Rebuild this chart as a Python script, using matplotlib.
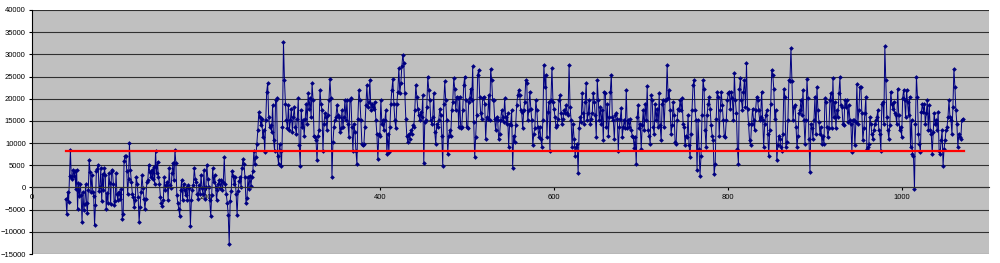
import numpy as np
import matplotlib
matplotlib.use("Agg")
import matplotlib.pyplot as plt

plt.rcParams['font.family'] = ['Liberation Sans', 'DejaVu Sans']

# series values in thousands (left to right)
c1 = [-2.5, -6, -1, -3.3, 2.7, 8.5, 2.3, 2, 4, 2.5, 3.8, -0.3, 4, -4.8, 1, -2, 0.8, -1.7, -7.8, -1,
      -5, -3.7, 0.7, -3.5, -5.8, -0.6, 6.3, 3.5, -1, 2.8, -1, -2, -8.5, -4, 3.8, 4.2, 5, -0.7, 0.2, 4.3,
      -3, 3, -0.5, 4.3, 2.8, -4.8, -1.3, -3.5, 3.2, 1, -3.7, 4, 3.7, 0.8, -3.9, -3, 3.2, -1.4, -2.9, -1,
      -1.5, -2.7, -0.4, -7, -6, 6, 7, 7.2, 3.8, -1.5, 2]
c2 = [10.0, 3.9, 1.3, -1.4, -2.1, -4.4, -2.9, 2.4, 0.9, -2.1, -7.8, -4.4, -1.0, 2.8, -0.2, -2.5, -4.8, -2.5,
      1.3, 1.7, 5.1, 3.6, 2.4, 3.9, 2.0, 4.7, 0.9, 8.3, 3.2, 5.8, 2.4, 0.9, -2.1, -3.6, -4.2, -2.9, 2.4,
      -0.6, 0.5, 1.3, -2.9, 4.3, 0.5, -0.2, 3.2, 5.5, 1.7, 8.5, 5.5, -1.7, -3.6, -4.8, -6.5, -0.6, 1.7,
      -2.9, 0.9, -0.6, -1.7, 0.2, -2.9, 0.5, -0.2, -8.6, -2.9, -0.6, 0.5, 4.3, 2.0, 1.3, -1.4, -2.5, 0.5,
      -1.4, 2.8, -0.2, -1.4, 3.9, -2.5, 0.2, 5.1, 2.0, 0.2, -2.9, -6.5, -1.7, 4.3, 1.3, 2.8, 0.2, -2.9,
      -0.6, 0.9, 1.7, -0.2, 1.7, -0.6, 1.3]
c3 = [6.8, 0.8, -1.5, -3.4, -6.1, -12.7, -3.0, -0.8, 3.8, 2.7, 0.8, 2.3, -1.5, -6.2, -0.8, 1.5, 2.3, 0,
      4.5, 6.4, 5.3, 2.3, -3.4, -2.3, 2.3, -0.4, 2.7, 0.4, 2.3, 3.8, 8.3, 5.3, 6.8, 9.8, 12.9, 17.0, 15.9,
      14.0, 15.5, 11.4, 12.9, 8.0, 15.2, 21.6, 23.5, 15.9, 13.6, 14.0, 12.5, 18.6, 10.6, 8.3, 19.7, 20.1,
      7.2, 5.3, 9.8, 8.3, 4.9, 13.6, 32.9, 24.2, 18.9, 15.2, 13.3, 18.6, 12.9, 15.2, 17.8, 12.5, 15.9,
      18.2, 13.6, 12.1, 15.5, 20.1, 9.5, 4.9, 17.4, 13.6, 15.2, 11.7, 15.5, 18.9, 14.4, 21.2, 17.8, 20.1,
      15.9, 23.5, 19.7, 11.7, 11.4, 10.6, 6.1, 11.7, 12.9]
c4 = [22.0, 18.9, 17.4, 8.3, 14.4, 16.7, 15.9, 12.9, 16.3, 19.7, 24.4, 20.1, 2.4, 10.2, 13.6, 15.2, 15.9,
      18.6, 16.3, 15.9, 12.5, 13.3, 17.4, 13.6, 15.9, 19.7, 15.2, 19.7, 14.4, 11.4, 19.7, 20.1, 13.6, 8.3,
      14.4, 12.5, 8.3, 5.3, 15.5, 22.0, 19.7, 15.2, 9.8, 9.5, 9.8, 13.6, 18.6, 23.1, 18.2, 19.3, 24.2,
      17.4, 18.9, 18.2, 17.8, 19.3, 15.2, 12.1, 6.4, 12.1, 11.7, 19.7, 14.4, 15.2, 12.9, 15.2, 17.4, 7.6,
      12.1, 8.0, 13.6, 18.9, 22.0, 24.4, 18.9, 15.2, 13.3, 18.9, 21.6, 26.9, 21.2, 23.5, 27.3, 29.9, 28.0,
      21.2, 15.5, 11.7, 10.2, 12.1, 11.0, 12.9, 12.1, 14.0, 13.6]
c5 = [17.4, 23.1, 20.5, 17.8, 16.3, 15.2, 17.0, 15.9, 20.8, 5.5, 14.8, 15.2, 18.2, 25.0, 22.0, 19.7, 15.2,
      14.4, 15.9, 21.2, 12.5, 9.8, 14.4, 13.6, 15.2, 17.8, 16.3, 11.7, 4.9, 18.9, 23.9, 19.7, 15.2, 7.6,
      11.7, 12.9, 11.7, 17.4, 19.3, 24.6, 22.3, 17.4, 20.5, 20.1, 13.6, 20.5, 13.3, 13.6, 17.4, 23.1, 25.0,
      19.7, 13.6, 13.3, 19.3, 20.1, 22.3, 19.7, 27.3, 14.8, 6.8, 11.4, 16.3, 25.4, 26.5, 20.5, 16.7, 15.5,
      20.1, 20.5, 18.9, 11.0, 15.8, 15.5, 20.8, 15.2, 26.7, 24.2, 19.7, 19.7, 15.5, 12.9, 15.9, 15.2, 11.0,
      12.1, 15.2, 17.4, 15.9, 14.8, 20.1, 15.9, 14.4, 16.7, 9.2]
c6 = [14.4, 14.0, 17.4, 4.5, 11.7, 10.2, 14.0, 18.6, 20.8, 22.0, 20.8, 17.4, 17.0, 13.3, 17.4, 19.3, 24.2,
      23.5, 15.2, 17.4, 21.6, 17.8, 15.2, 9.5, 12.1, 13.3, 19.7, 17.4, 13.6, 11.4, 13.6, 11.0, 9.1, 15.2,
      27.7, 22.7, 25.4, 11.4, 17.0, 19.3, 8.3, 19.7, 27.0, 19.3, 17.8, 15.9, 13.6, 14.0, 15.5, 19.7, 20.8,
      16.7, 14.4, 15.5, 17.4, 16.7, 18.6, 16.7, 16.3, 27.7, 18.2, 15.2, 9.1, 14.4, 11.0, 7.2, 9.1, 9.8,
      3.2, 13.3, 15.9, 14.8, 21.2, 16.7, 14.4, 19.3, 23.5, 15.2, 16.7, 19.7, 14.4, 15.5, 16.7, 21.4, 19.3,
      16.3, 11.4, 24.2, 19.7, 15.2, 18.2, 14.4, 17.4, 10.6, 21.6]
c7 = [21.2, 13.6, 18.9, 11.7, 15.9, 21.6, 25.4, 15.9, 15.2, 11.0, 16.3, 16.7, 15.5, 8.3, 13.6, 15.5, 18.0,
      11.4, 13.6, 15.2, 13.3, 22.0, 13.3, 15.2, 13.6, 15.5, 12.9, 11.7, 11.4, 8.9, 11.4, 5.2, 15.9, 18.6,
      13.3, 14.4, 8.7, 14.0, 17.4, 12.9, 18.9, 15.2, 22.9, 12.9, 11.7, 9.8, 20.8, 19.7, 13.6, 12.1, 18.9,
      15.2, 17.8, 13.6, 21.2, 14.0, 10.6, 18.9, 19.7, 13.6, 19.7, 19.7, 27.5, 20.1, 22.0, 17.4, 12.1, 14.0,
      19.3, 16.3, 10.2, 9.8, 15.2, 17.8, 17.4, 19.7, 17.4, 20.1, 14.4, 13.6, 9.5, 11.7, 11.4, 16.3, 9.5,
      6.8, 12.1, 17.4, 23.1, 24.2, 17.4, 15.2, 3.9, 15.2, 8.7, 2.7]
c8 = [7.2, 16.3, 24.2, 22.3, 12.9, 9.1, 16.3, 18.9, 20.5, 17.8, 14.0, 11.7, 10.6, 3.0, 5.3, 15.5, 21.6,
      20.5, 11.7, 17.4, 21.6, 18.6, 15.2, 11.7, 11.4, 15.2, 19.7, 21.2, 21.6, 17.8, 21.6, 20.1, 15.2, 25.8,
      19.7, 16.7, 8.7, 5.3, 22.3, 24.6, 19.7, 17.4, 21.6, 24.2, 18.2, 28.0, 17.8, 14.4, 10.6, 9.5, 14.4,
      17.8, 15.2, 12.9, 17.4, 20.5, 19.7, 17.4, 15.2, 15.9, 21.6, 15.2, 9.1, 14.4, 16.3, 17.4, 12.1, 7.2,
      12.9, 18.9, 26.5, 25.4, 22.3, 15.5, 17.4, 6.1, 9.5, 11.7, 11.0, 9.1, 8.3, 12.1, 22.3, 20.5, 9.1, 10.2,
      15.2, 24.2, 23.9, 31.4, 23.9, 15.2, 18.2]
c9 = [18.6, 13.6, 9.1, 11.7, 16.7, 17.4, 19.7, 16.3, 22.0, 15.2, 9.8, 15.2, 24.4, 20.1, 11.0, 3.4, 14.4,
      13.3, 11.0, 15.2, 20.5, 12.1, 22.7, 17.4, 14.8, 12.1, 13.6, 9.8, 11.7, 9.8, 20.1, 19.3, 13.6, 11.4,
      13.3, 19.7, 21.2, 13.3, 24.6, 15.9, 19.3, 13.3, 17.4, 15.9, 21.2, 24.8, 18.6, 18.2, 14.4, 14.0, 19.7,
      18.2, 19.7, 14.8, 18.6, 15.2, 14.4, 8.0, 15.2, 15.2, 9.5, 14.8, 23.3, 14.4, 17.4, 22.7, 22.7, 16.7,
      10.6, 13.3, 16.7, 20.5, 8.7, 9.1, 9.8, 15.9, 14.4, 12.1, 11.0, 12.9, 14.4, 15.2, 15.9, 17.4, 12.9,
      12.1, 8.3, 18.9, 19.3, 14.4, 31.8, 24.2, 15.9, 12.9, 11.0]
c10 = [14.0, 21.6, 18.9, 17.8, 19.3, 16.7, 16.3, 14.4, 22.3, 16.3, 12.9, 13.6, 11.4, 20.1, 22.0, 19.7,
       15.9, 22.0, 19.3, 16.3, 20.5, 9.1, 15.2, 7.6, 7.2, -0.4, 14.4, 25.0, 20.5, 12.1, 9.8, 8.0, 17.0,
       18.9, 17.0, 18.9, 14.4, 16.7, 19.7, 12.9, 18.6, 12.9, 12.1, 7.6, 12.5, 16.7, 14.4, 15.2, 12.9, 17.0,
       8.3, 7.6, 10.6, 12.9, 4.9, 8.7, 10.6, 12.9, 13.6, 15.9, 19.7, 15.9, 15.2, 12.1, 18.2, 26.7, 22.7,
       17.4, 14.4, 9.1, 12.1, 11.4, 11.0, 15.2, 15.5]

chunks = [c1, c2, c3, c4, c5, c6, c7, c8, c9, c10]
# x value where each chunk starts (last entry = end of the series)
chunk_x = [39, 112, 221, 331, 440, 549, 659, 769, 877, 986, 1071]

# horizontal red reference line
ref_level = 8300
ref_x = [39, 1071]

x_ticks = [0, 200, 400, 600, 800, 1000]
y_ticks = list(range(-15000, 40001, 5000))

x = np.concatenate([np.linspace(chunk_x[i], chunk_x[i + 1], len(c), endpoint=False)
                    for i, c in enumerate(chunks)])
y = np.concatenate([np.array(c) * 1000 for c in chunks])

fig = plt.figure(figsize=(10, 2.63), dpi=100)
ax = fig.add_axes([0.032, 0.034, 0.957, 0.928])
ax.set_facecolor('#C0C0C0')
ax.set_axisbelow(True)

ax.plot(x, y, color='#000080', lw=0.7, marker='D', markersize=2.4,
        markeredgewidth=0, zorder=2)
ax.plot(ref_x, [ref_level, ref_level], color='#FF0000', lw=1.6, zorder=3)

ax.set_xlim(0, 1100)
ax.set_ylim(-15000, 40000)
ax.set_xticks(x_ticks)
ax.set_yticks(y_ticks)
ax.yaxis.grid(True, color='#303030', lw=0.8)

ax.spines['top'].set_visible(False)
ax.spines['right'].set_visible(False)
ax.spines['bottom'].set_position(('data', 0))
ax.spines['bottom'].set_color('#303030')
ax.spines['left'].set_color('black')
ax.tick_params(axis='both', direction='out', length=2.5, width=0.8, labelsize=5.5, pad=2)

fig.savefig('out.png', dpi=100)
